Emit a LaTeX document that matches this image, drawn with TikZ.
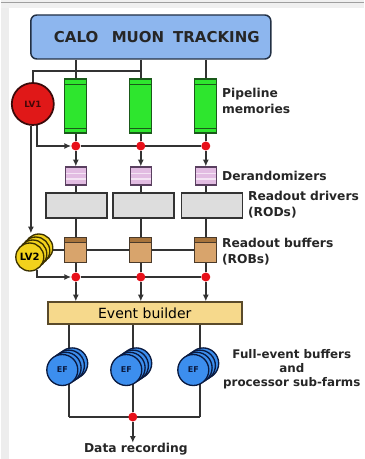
\documentclass[tikz,border=0pt]{standalone}
\usepackage{fontspec}
\setmainfont{DejaVu Sans}
\usetikzlibrary{arrows.meta,backgrounds}
\pgfdeclarelayer{frame}
\pgfsetlayers{frame,background,main}
\definecolor{detblue}{HTML}{8DB6EE}
\definecolor{detedge}{HTML}{223044}
\definecolor{pipegreen}{HTML}{2EE62E}
\definecolor{pipeedge}{HTML}{1A5A1A}
\definecolor{lvred}{HTML}{E01818}
\definecolor{lvredge}{HTML}{3A0A0A}
\definecolor{dotred}{HTML}{E8101A}
\definecolor{derpink}{HTML}{E2BCE2}
\definecolor{deredge}{HTML}{5A4060}
\definecolor{rodgray}{HTML}{DDDDDD}
\definecolor{robbrown}{HTML}{D8A46C}
\definecolor{robdark}{HTML}{A8743C}
\definecolor{robedge}{HTML}{4A3A2A}
\definecolor{lvyellow}{HTML}{F2D21C}
\definecolor{lvyedge}{HTML}{3A3000}
\definecolor{ebfill}{HTML}{F6D98C}
\definecolor{ebedge}{HTML}{5A4A2A}
\definecolor{efblue}{HTML}{3C8EEE}
\definecolor{efedge}{HTML}{0A1A40}
\begin{document}
\begin{tikzpicture}[x=0.75pt,y=-0.75pt,
  conn/.style={draw=black!80,line width=1.05pt},
  arr/.style={conn,-{Latex[length=5pt,width=4.5pt]}},
  dot/.style={circle,fill=dotred,inner sep=0pt,minimum size=6.75pt},
  lab/.style={inner sep=0pt,anchor=west,align=left,font=\bfseries\fontsize{9.2}{12}\selectfont,text=black!85},
  detbox/.style={draw=detedge,line width=1.1pt,fill=detblue,rounded corners=4.5pt,
    minimum width=180pt,minimum height=33pt,inner sep=0pt,
    font=\bfseries\fontsize{11.25}{12}\selectfont,text=black!85},
  pipebox/.style={draw=pipeedge,line width=0.9pt,fill=pipegreen,minimum width=16.5pt,
    minimum height=40.5pt,inner sep=0pt,
    path picture={\draw[pipeedge,line width=0.7pt]
      ([yshift=-3.75pt]path picture bounding box.north west) -- ([yshift=-3.75pt]path picture bounding box.north east)
      ([yshift=3.75pt]path picture bounding box.south west) -- ([yshift=3.75pt]path picture bounding box.south east);}},
  derbox/.style={draw=deredge,line width=0.9pt,fill=derpink,minimum width=15.75pt,
    minimum height=13.5pt,inner sep=0pt,
    path picture={\draw[white!60!derpink,line width=1.2pt]
      ([yshift=-5pt]path picture bounding box.north west) -- ([yshift=-5pt]path picture bounding box.north east)
      ([yshift=4.5pt]path picture bounding box.south west) -- ([yshift=4.5pt]path picture bounding box.south east);}},
  rodbox/.style={draw=black!80,line width=1.05pt,fill=rodgray,minimum width=45.75pt,
    minimum height=18.75pt,inner sep=0pt},
  robbox/.style={draw=robedge,line width=0.9pt,fill=robbrown,minimum width=16.5pt,
    minimum height=18.75pt,inner sep=0pt,
    path picture={\fill[robdark] (path picture bounding box.north west) rectangle ([yshift=-3.75pt]path picture bounding box.north east);
      \draw[robedge,line width=0.6pt] ([yshift=-3.75pt]path picture bounding box.north west) -- ([yshift=-3.75pt]path picture bounding box.north east);}},
  lvone/.style={circle,draw=lvredge,line width=1.3pt,fill=lvred,minimum size=31.5pt,inner sep=0pt,
    font=\bfseries\fontsize{6.5}{7}\selectfont,text=black!70!lvred},
  lvtwo/.style={circle,draw=lvyedge,line width=1pt,fill=lvyellow,minimum size=21pt,inner sep=0pt,
    font=\bfseries\fontsize{7.5}{8}\selectfont,text=black},
  ebbox/.style={draw=ebedge,line width=1.05pt,fill=ebfill,minimum width=145.5pt,
    minimum height=16.5pt,inner sep=0pt,font=\fontsize{10.5}{12}\selectfont},
  efdisc/.style={circle,draw=efedge,line width=1pt,fill=efblue,minimum size=23.25pt,inner sep=0pt,
    font=\bfseries\fontsize{6}{7}\selectfont,text=efedge}
]
% background frame
\begin{pgfonlayer}{frame}
\fill[white] (0,0) rectangle (363,459);
\fill[gray!14] (0,0) rectangle (8,459);
\fill[gray!12] (0,0) rectangle (363,8);
\draw[gray!75,line width=1.2pt] (0,2.5) -- (363,2.5);
\end{pgfonlayer}
\useasboundingbox (0,0) rectangle (363,459);

% detector box
\node[detbox] (det) at (150,37) {\hspace*{9pt}CALO\hspace{0.9em}MUON\hspace{0.6em}TRACKING};

% pipelines
\node[pipebox] (pm1) at (75,106) {};
\node[pipebox] (pm2) at (140,106) {};
\node[pipebox] (pm3) at (205,106) {};
\node[lab] (lpm) at (221,101) {Pipeline\\memories};

% LV1
\node[lvone] (lv1) at (32,104) {LV1};
\coordinate (j1) at (140,71);

% dots row 1
\node[dot] (da1) at (75,146) {};
\node[dot] (da2) at (140,146) {};
\node[dot] (da3) at (205,146) {};

% derandomizers
\node[derbox] (dr1) at (75,176) {};
\node[derbox] (dr2) at (140,176) {};
\node[derbox] (dr3) at (205,176) {};
\node[lab] (ldr) at (221,176) {Derandomizers};

% RODs
\node[rodbox] (rod1) at (75.5,205.5) {};
\node[rodbox] (rod2) at (142.5,205.5) {};
\node[rodbox] (rod3) at (211,205.5) {};
\node[lab] (lrod) at (247,205) {Readout drivers\\(RODs)};

% ROBs
\node[robbox] (rob1) at (75,250) {};
\node[robbox] (rob2) at (140,250) {};
\node[robbox] (rob3) at (205,250) {};
\node[lab] (lrob) at (221,252) {Readout buffers\\(ROBs)};

% LV2 stack
\node[lvtwo] (lv2c) at (38,248) {};
\node[lvtwo] (lv2b) at (35,251) {};
\node[lvtwo] (lv2a) at (32,254) {};
\node[lvtwo] (lv2) at (29,257) {LV2};

% dots row 2
\node[dot] (db1) at (75,277) {};
\node[dot] (db2) at (140,277) {};
\node[dot] (db3) at (205,277) {};

% event builder
\node[ebbox] (eb) at (144,313) {Event builder};

% EF stacks
\foreach \i/\x in {1/61.5,2/125.5,3/192.5}{
  \node[efdisc] (ef\i c) at (\x+9.9,363.4) {};
  \node[efdisc] (ef\i b) at (\x+6.6,365.6) {};
  \node[efdisc] (ef\i a) at (\x+3.3,367.8) {};
  \node[efdisc] (ef\i) at (\x,370) {EF};
}
\node[inner sep=0pt,align=center,font=\bfseries\fontsize{8.9}{10.5}\selectfont,text=black!85] (lef) at (291,369)
  {Full-event buffers\\and\\processor sub-farms};

\coordinate (b1) at (68,417);
\coordinate (b3) at (199,417);
\node[dot] (dc) at (132,417) {};
\node[inner sep=0pt,font=\bfseries\fontsize{9.2}{12}\selectfont,text=black!85] (rec) at (135,449) {Data recording};

\begin{scope}[on background layer]
  % detector to pipelines
  \draw[conn] (det.south -| pm1) -- (pm1.north);
  \draw[conn] (det.south -| pm2) -- (pm2.north);
  \draw[conn] (det.south -| pm3) -- (pm3.north);
  \draw[conn] (lv1.north) |- (j1);
  % pipelines to dots
  \draw[conn] (pm1.south) -- (da1);
  \draw[conn] (pm2.south) -- (da2);
  \draw[conn] (pm3.south) -- (da3);
  \draw[arr] (lv1.-79) |- (da1);
  \draw[conn] (da1) -- (da3);
  % dots to derandomizers
  \draw[arr] (da1) -- (dr1.north);
  \draw[arr] (da2) -- (dr2.north);
  \draw[arr] (da3) -- (dr3.north);
  % derandomizers to RODs to ROBs
  \draw[conn] (dr1.south) -- (dr1.south |- rod1.north);
  \draw[conn] (dr2.south) -- (dr2.south |- rod2.north);
  \draw[conn] (dr3.south) -- (dr3.south |- rod3.north);
  \draw[conn] (rob1.north |- rod1.south) -- (rob1.north);
  \draw[conn] (rob2.north |- rod2.south) -- (rob2.north);
  \draw[conn] (rob3.north |- rod3.south) -- (rob3.north);
  % LV1 to LV2
  \draw[arr] (lv1.-95) -- (lv1.-95 |- lv2c.north);
  % ROB row
  \draw[conn] (lv2 |- rob1) -- (rob3);
  % ROBs to dots
  \draw[conn] (rob1.south) -- (db1);
  \draw[conn] (rob2.south) -- (db2);
  \draw[conn] (rob3.south) -- (db3);
  \draw[arr] (lv2.-60) |- (db1);
  \draw[conn] (db1) -- (db3);
  \draw[arr] (db1) -- (db1 |- eb.north);
  \draw[arr] (db2) -- (db2 |- eb.north);
  \draw[arr] (db3) -- (db3 |- eb.north);
  % event builder to EF to recording
  \draw[conn] (eb.south -| b1) -- (b1);
  \draw[conn] (eb.south -| dc) -- (dc);
  \draw[conn] (eb.south -| b3) -- (b3);
  \draw[conn] (b1) -- (b3);
  \draw[arr] (dc) -- (dc |- rec.north);
\end{scope}
\end{tikzpicture}
\end{document}
